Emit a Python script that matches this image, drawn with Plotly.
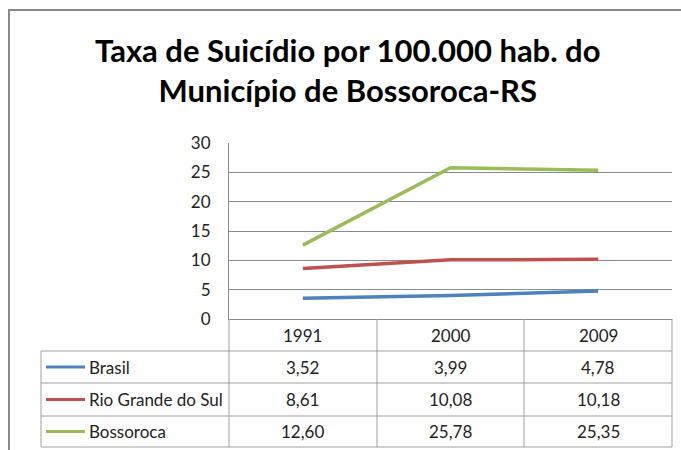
import plotly.graph_objects as go

years = ["1991", "2000", "2009"]
series_names = ["Brasil", "Rio Grande do Sul", "Bossoroca"]
brasil = [3.52, 3.99, 4.78]
rio_grande_do_sul = [8.61, 10.08, 10.18]
bossoroca = [12.60, 25.78, 25.35]
colors = ["#4F81BD", "#C0504D", "#9BBB59"]
y_ticks = [0, 5, 10, 15, 20, 25, 30]
title_text = "<b>Taxa de Suicídio por 100.000 hab. do<br>Município de Bossoroca-RS</b>"

series_values = [brasil, rio_grande_do_sul, bossoroca]

FW, FH = 681, 450
# plot-area edges in page pixels (body margin removed below)
L, R, T, B = 229, 672, 143, 319
W, H = R - L, B - T


def px(x):
    return (x - L) / W


def py(y):
    return (B - y) / H


FONT = "Lato"
GRID = "#8a8a8a"
TAB = "#a0a0a0"
BORDER = "#888888"

fig = go.Figure()
for name, vals, c in zip(series_names, series_values, colors):
    fig.add_trace(go.Scatter(x=years, y=vals, mode="lines", name=name,
                             line=dict(color=c, width=3.5), showlegend=False))

shapes = []
# outer chart border (top and left edges visible)
shapes.append(dict(type="line", xref="paper", yref="paper",
                   x0=px(8), x1=px(700), y0=py(10), y1=py(10),
                   line=dict(color=BORDER, width=2)))
shapes.append(dict(type="line", xref="paper", yref="paper",
                   x0=px(9), x1=px(9), y0=py(9), y1=py(470),
                   line=dict(color=BORDER, width=2)))


def hline(y, x0, x1):
    shapes.append(dict(type="line", xref="paper", yref="paper", x0=px(x0), x1=px(x1),
                       y0=py(y), y1=py(y), line=dict(color=TAB, width=1)))


def vline(x, y0, y1):
    shapes.append(dict(type="line", xref="paper", yref="paper", x0=px(x), x1=px(x),
                       y0=py(y0), y1=py(y1), line=dict(color=TAB, width=1)))


row_lines = [351, 383, 416, 447]
for y in row_lines:
    hline(y, 41, 672)
for x in [229, 377, 524, 672]:
    vline(x, 319, 447)
vline(41, 351, 447)

annotations = []
# title
annotations.append(dict(text=title_text, xref="paper", yref="paper",
                        x=px(348), y=py(70), xanchor="center", yanchor="middle",
                        showarrow=False, font=dict(family=FONT, size=31, color="#000"),
                        ))
# header row
for i, yr in enumerate(years):
    annotations.append(dict(text=yr, xref="x", yref="paper", x=i, y=py(335),
                            xanchor="center", yanchor="middle", showarrow=False,
                            font=dict(family=FONT, size=17, color="#222")))
row_centers = [367, 399.5, 431.5]
for name, vals, c, yc in zip(series_names, series_values, colors, row_centers):
    shapes.append(dict(type="line", xref="paper", yref="paper", x0=px(46), x1=px(85),
                       y0=py(yc), y1=py(yc), line=dict(color=c, width=3)))
    annotations.append(dict(text=name, xref="paper", yref="paper", x=px(87), y=py(yc),
                            xanchor="left", yanchor="middle", showarrow=False,
                            font=dict(family=FONT, size=17, color="#222")))
    for i, v in enumerate(vals):
        annotations.append(dict(text=f"{v:.2f}".replace(".", ","), xref="x", yref="paper",
                                x=i, y=py(yc), xanchor="center", yanchor="middle",
                                showarrow=False,
                                font=dict(family=FONT, size=17, color="#222")))

fig.update_layout(
    width=FW, height=FH,
    margin=dict(l=L, r=FW - R, t=T, b=FH - B, autoexpand=False),
    paper_bgcolor="white", plot_bgcolor="white",
    shapes=shapes, annotations=annotations,
    xaxis=dict(type="category", range=[-0.5, 2.5], showticklabels=False, ticks="",
               showgrid=False, showline=True, linecolor=GRID, linewidth=1, zeroline=False),
    yaxis=dict(range=[0, 30], tickvals=y_ticks, showgrid=True, gridcolor=GRID, gridwidth=1,
               zeroline=False, showline=True, linecolor=GRID, linewidth=1,
               ticks="outside", ticklen=14, tickcolor="rgba(0,0,0,0)",
               tickfont=dict(family=FONT, size=17, color="#222")),
)

fig.write_html(
    "out.html",
    config={"displayModeBar": False},
    post_script="document.body.style.margin='0';document.body.style.overflow='hidden';",
)
